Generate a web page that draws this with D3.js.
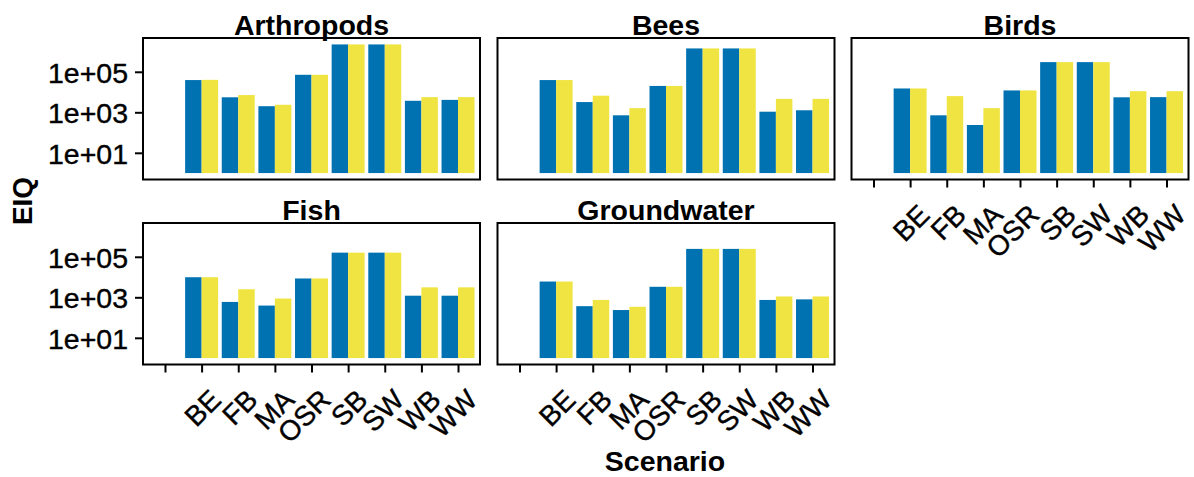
<!DOCTYPE html>
<html>
<head>
<meta charset="utf-8">
<script src="https://cdn.jsdelivr.net/npm/d3@7"></script>
<style>
  html, body { margin: 0; padding: 0; background: #fff; }
  svg { display: block; font-family: "Liberation Sans", Arial, sans-serif; }
</style>
</head>
<body>
<svg id="chart" width="1194" height="477"></svg>
<script>
// Scenario categories (the first level is an unlabelled empty level)
const categories = ["", "BE", "FB", "MA", "OSR", "SB", "SW", "WB", "WW"];
const facetNames = ["Arthropods", "Bees", "Birds", "Fish", "Groundwater"];
const yTicks = [10, 1000, 100000];

// EIQ per scenario (BE..WW), first and second series for each facet
const arthropodsA = [39000, 5500, 2000, 71000, 2240000, 2240000, 3700, 4100];
const arthropodsB = [40000, 7100, 2350, 71000, 2240000, 2240000, 5600, 5600];
const beesA = [39000, 3200, 710, 20000, 1420000, 1420000, 1070, 1260];
const beesB = [39000, 6600, 1600, 20000, 1420000, 1420000, 4600, 4600];
const birdsA = [15000, 710, 236, 12000, 300000, 300000, 5500, 5600];
const birdsB = [15000, 6300, 1600, 12000, 300000, 300000, 11000, 11000];
const fishA = [9800, 590, 390, 8500, 160000, 160000, 1200, 1200];
const fishB = [9800, 2500, 870, 8500, 160000, 160000, 3100, 3100];
const groundwaterA = [6000, 365, 235, 3300, 245000, 245000, 740, 790];
const groundwaterB = [6000, 740, 340, 3300, 245000, 245000, 1100, 1100];

const seriesA = [arthropodsA, beesA, birdsA, fishA, groundwaterA];
const seriesB = [arthropodsB, beesB, birdsB, fishB, groundwaterB];
const colors = ["#0072B2", "#F0E442"];

// Long table built from the arrays above
const labelled = categories.filter(c => c !== "");
const rows = [];
facetNames.forEach((f, i) => {
  labelled.forEach((c, j) => {
    rows.push({ facet: f, scenario: c, series: 0, value: seriesA[i][j] });
    rows.push({ facet: f, scenario: c, series: 1, value: seriesB[i][j] });
  });
});

const svg = d3.select("#chart");

// Panel grid (facet_wrap with 3 columns, fixed scales)
const panelW = 337, panelH = 141.5;
const colX = [143, 497.5, 851.5];
const rowY = [38, 223];

// Shared log y scale: bars rise from 1, range expanded 5% in log space
const logMax = Math.log10(d3.max(rows, d => d.value));
const pad = 0.05 * logMax;
const yDomain = [Math.pow(10, -pad), Math.pow(10, logMax + pad)];

// Discrete x scale with 0.6 unit padding on each side
const n = categories.length;
const step = panelW / (n - 1 + 1.2);

const fmt = v => {
  const e = Math.round(Math.log10(v));
  return "1e+" + String(e).padStart(2, "0");
};

facetNames.forEach((name, i) => {
  const col = i % 3, row = Math.floor(i / 3);
  const x0 = colX[col], y0 = rowY[row];
  const g = svg.append("g").attr("transform", `translate(${x0},${y0})`);

  const x = d3.scalePoint().domain(categories)
    .range([0.6 * step, panelW - 0.6 * step]);
  const y = d3.scaleLog().domain(yDomain).range([panelH, 0]);
  const xs = d3.scaleBand().domain([0, 1])
    .range([-0.45 * step, 0.45 * step]).padding(0);

  // bars
  g.selectAll("rect.bar")
    .data(rows.filter(r => r.facet === name))
    .join("rect")
    .attr("class", "bar")
    .attr("x", d => x(d.scenario) + xs(d.series))
    .attr("width", xs.bandwidth())
    .attr("y", d => y(d.value))
    .attr("height", d => y(1) - y(d.value))
    .attr("fill", d => colors[d.series]);

  // panel border
  g.append("rect")
    .attr("x", 0).attr("y", 0)
    .attr("width", panelW).attr("height", panelH)
    .attr("fill", "none").attr("stroke", "#000").attr("stroke-width", 2);

  // strip title
  g.append("text")
    .attr("x", panelW / 2).attr("y", -3)
    .attr("text-anchor", "middle")
    .attr("font-weight", "bold")
    .attr("font-size", 28.5)
    .text(name);

  // y axis on the left column
  if (col === 0) {
    const ya = g.append("g").call(
      d3.axisLeft(y).tickValues(yTicks).tickFormat(fmt).tickSize(8).tickPadding(7)
    );
    ya.select(".domain").remove();
    ya.selectAll("line").attr("stroke", "#000").attr("stroke-width", 2);
    ya.selectAll("text").attr("font-size", 28.5).attr("fill", "#000")
      .attr("font-family", "Liberation Sans, Arial, sans-serif")
      .attr("stroke", "#000").attr("stroke-width", 0.4)
      .attr("dy", "0.36em");
  }

  // x axis on the lowest panel of each column
  const bottomPanel = (row === 1) || (col === 2);
  if (bottomPanel) {
    const xa = g.append("g").attr("transform", `translate(0,${panelH})`)
      .call(d3.axisBottom(x).tickSize(8).tickFormat(() => ""));
    xa.select(".domain").remove();
    xa.selectAll("line").attr("stroke", "#000").attr("stroke-width", 2);
    g.append("g").selectAll("text")
      .data(categories.filter(c => c !== ""))
      .join("text")
      .attr("transform", c => `translate(${x(c) + 21},${panelH + 37}) rotate(-45)`)
      .attr("text-anchor", "end")
      .attr("font-size", 28)
      .attr("fill", "#000")
      .attr("stroke", "#000").attr("stroke-width", 0.4)
      .text(c => c);
  }
});

// axis titles
svg.append("text")
  .attr("transform", "translate(32,201) rotate(-90)")
  .attr("text-anchor", "middle")
  .attr("font-weight", "bold")
  .attr("font-size", 28)
  .text("EIQ");

svg.append("text")
  .attr("x", 665).attr("y", 470.5)
  .attr("text-anchor", "middle")
  .attr("font-weight", "bold")
  .attr("font-size", 28.5)
  .text("Scenario");
</script>
</body>
</html>
